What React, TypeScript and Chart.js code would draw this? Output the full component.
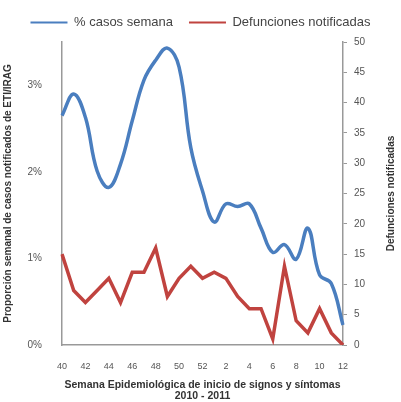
import React, { useEffect, useRef } from "react";
import { Chart, registerables } from "chart.js";

Chart.register(...registerables);

const weeks = ["40", "41", "42", "43", "44", "45", "46", "47", "48", "49", "50", "51", "52", "1", "2", "3", "4", "5", "6", "7", "8", "9", "10", "11", "12"];
const pctCasos = [2.65, 2.9, 2.63, 2.01, 1.82, 2.09, 2.59, 3.06, 3.29, 3.43, 3.21, 2.28, 1.78, 1.42, 1.63, 1.6, 1.63, 1.35, 1.07, 1.16, 0.99, 1.35, 0.81, 0.71, 0.23];
const defunciones = [15, 9, 7, 9, 11, 7, 12, 12, 16, 8, 11, 13, 11, 12, 11, 8, 6, 6, 1, 13, 4, 2, 6, 2, 0];
const leftTicks = [0, 1, 2, 3];

const BLUE = "#4a7ebf";
const RED = "#c0433f";
const FONT = "'Liberation Sans', Arial, sans-serif";

const rightTitlePlugin = {
  id: "rightTitle",
  beforeInit(chart: any) {
    const lg = chart.legend;
    if (lg) {
      const orig = lg.fit.bind(lg);
      lg.fit = function () {
        orig();
        this.height += 3;
      };
    }
  },
  afterDraw(chart: any) {
    const { ctx, chartArea } = chart;
    ctx.save();
    ctx.translate(391, (chartArea.top + chartArea.bottom) / 2);
    ctx.rotate(-Math.PI / 2);
    ctx.textAlign = "center";
    ctx.textBaseline = "middle";
    ctx.fillStyle = "#333";
    ctx.font = `bold 10px ${FONT}`;
    ctx.fillText("Defunciones notificadas", 0, 0);
    ctx.restore();
  },
};

export default function App() {
  const ref = useRef<HTMLCanvasElement>(null);
  useEffect(() => {
    if (!ref.current) return;
    const chart = new Chart(ref.current, {
      type: "line",
      data: {
        labels: weeks,
        datasets: [
          {
            label: "% casos semana",
            data: pctCasos,
            borderColor: BLUE,
            backgroundColor: BLUE,
            borderWidth: 3.5,
            pointRadius: 0,
            tension: 0.4,
            yAxisID: "y",
          },
          {
            label: "Defunciones notificadas",
            data: defunciones,
            borderColor: RED,
            backgroundColor: RED,
            borderWidth: 3.5,
            pointRadius: 0,
            tension: 0,
            yAxisID: "y1",
          },
        ],
      },
      options: {
        animation: false,
        responsive: false,
        maintainAspectRatio: false,
        layout: { padding: 0 },
        plugins: {
          tooltip: { enabled: false },
          legend: {
            position: "top",
            labels: {
              font: { family: FONT, size: 13 },
              color: "#444",
              boxWidth: 37,
              boxHeight: 2,
              padding: 16,
              generateLabels: (c: any) =>
                c.data.datasets.map((d: any, i: number) => ({
                  text: d.label,
                  fillStyle: d.borderColor,
                  strokeStyle: d.borderColor,
                  lineWidth: 0,
                  fontColor: "#444",
                  datasetIndex: i,
                  hidden: false,
                })),
            },
          },
        },
        scales: {
          x: {
            offset: false,
            grid: { display: false },
            border: { display: true, color: "#999", width: 1.5 },
            ticks: {
              autoSkip: false,
              maxRotation: 0,
              color: "#555",
              font: { family: FONT, size: 9 },
              padding: 8,
              callback: (_v: any, i: number) => (i % 2 === 0 ? weeks[i] : ""),
            },
            title: {
              display: true,
              text: ["Semana Epidemiológica de inicio de signos y síntomas", "2010 - 2011"],
              color: "#333",
              font: { family: FONT, size: 10.5, weight: "bold", lineHeight: 1.1 },
              padding: { top: 4, bottom: 0 },
            },
            afterFit: (s: any) => {
              s.height = 57;
            },
          },
          y: {
            position: "left",
            min: 0,
            max: 3.5,
            grid: { display: false },
            border: { display: true, color: "#999", width: 1.5 },
            afterBuildTicks: (s: any) => {
              s.ticks = leftTicks.map((v) => ({ value: v }));
            },
            ticks: {
              color: "#555",
              font: { family: FONT, size: 10 },
              padding: 12,
              callback: (v: any) => `${v}%`,
            },
            title: {
              display: true,
              text: "Proporción semanal de casos notificados de ETI/IRAG",
              color: "#333",
              font: { family: FONT, size: 10, weight: "bold" },
              padding: { top: 2, bottom: 4 },
            },
            afterFit: (s: any) => {
              s.width = 62;
            },
          },
          y1: {
            position: "right",
            min: 0,
            max: 50,
            grid: { display: true, drawOnChartArea: false, color: "#999", tickLength: 4 },
            border: { display: true, color: "#999", width: 1.5 },
            ticks: {
              stepSize: 5,
              color: "#555",
              font: { family: FONT, size: 10 },
              padding: 7,
            },
            afterFit: (s: any) => {
              s.width = 58;
            },
          },
        },
      },
      plugins: [rightTitlePlugin],
    } as any);
    return () => chart.destroy();
  }, []);

  return (
    <div style={{ position: "fixed", left: 0, top: 0, width: 401, height: 402, background: "#fff" }}>
      <canvas ref={ref} width={401} height={402} style={{ width: 401, height: 402, display: "block" }} />
    </div>
  );
}
